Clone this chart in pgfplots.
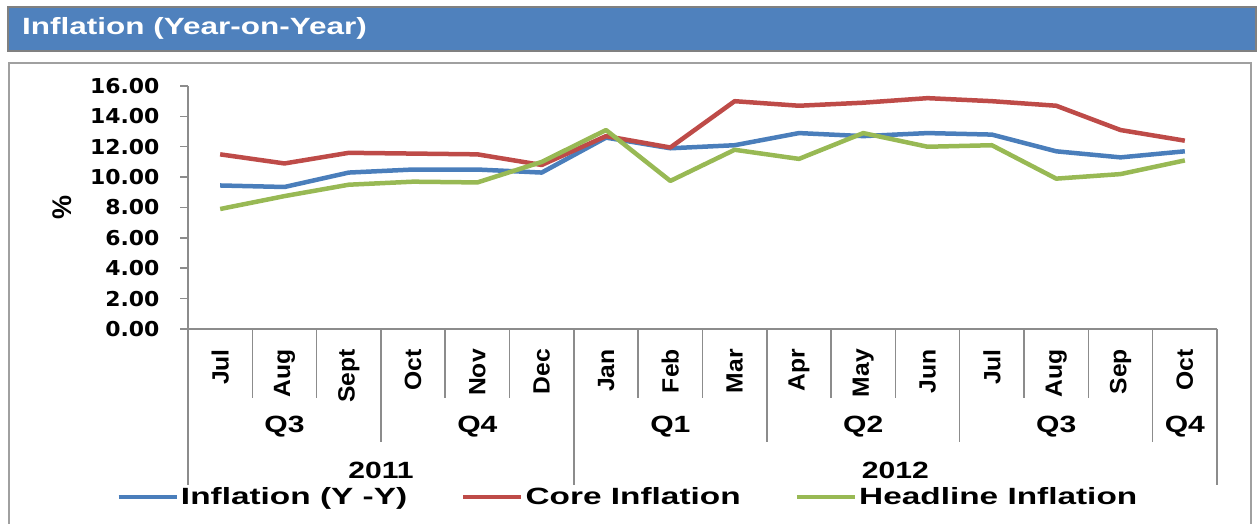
\documentclass[border=0pt]{standalone}
\usepackage{fontspec}
\usepackage{pgfplots}
\usepackage{pgfplotstable}
\pgfplotsset{compat=1.18}
\setmainfont{Liberation Sans}
\newfontfamily\ttlfont[FakeStretch=1.34]{Liberation Sans}
\newfontfamily\lgdfont[FakeStretch=1.42]{Liberation Sans}
\newfontfamily\grpfont[FakeStretch=1.28]{Liberation Sans}
\newfontfamily\monfont[FakeStretch=1.05]{Liberation Sans}
\newfontfamily\numfont[FakeStretch=1.07]{DejaVu Sans}

\definecolor{serblue}{HTML}{4A7EBB}
\definecolor{serred}{HTML}{BE4B48}
\definecolor{sergreen}{HTML}{98B954}
\definecolor{ttlblue}{HTML}{4F81BD}
\definecolor{framegray}{HTML}{A0A0A0}
\definecolor{axisgray}{HTML}{8C8C8C}

% x: 0 = Jul 2011 ... 15 = Oct 2012
\pgfplotstableread{
x  yy    core  head
0  9.45  11.50 7.90
1  9.35  10.90 8.75
2  10.30 11.60 9.50
3  10.50 11.55 9.70
4  10.50 11.50 9.65
5  10.30 10.80 11.00
6  12.60 12.70 13.10
7  11.90 11.95 9.75
8  12.10 15.00 11.80
9  12.90 14.70 11.20
10 12.70 14.90 12.90
11 12.90 15.20 12.00
12 12.80 15.00 12.10
13 11.70 14.70 9.90
14 11.30 13.10 10.20
15 11.70 12.40 11.10
}\inflation

\begin{document}
\begin{tikzpicture}
\useasboundingbox (0,0) rectangle (1260pt,524pt);
% title bar
\draw[fill=ttlblue, draw=gray, line width=2pt] (8pt,473pt) rectangle (1256pt,517pt);
\node[anchor=west, text=white, inner sep=0pt, font=\fontsize{23.5}{27}\selectfont\ttlfont\bfseries] at (22pt,496pt) {Inflation (Year-on-Year)};
% chart frame
\draw[framegray, line width=2pt] (9pt,-2pt) -- (9pt,461pt) -- (1251pt,461pt) -- (1251pt,-2pt);
\node[rotate=90, font=\fontsize{27}{30}\selectfont\bfseries] at (62pt,316pt) {\%};

\begin{axis}[
    scale only axis,
    width=1029pt, height=243pt,
    at={(188pt,195pt)}, anchor=south west,
    xmin=-0.5, xmax=15.5, ymin=0, ymax=16,
    axis x line*=bottom, axis y line*=left,
    axis line style={draw=axisgray, line width=1.5pt},
    ytick={0,2,...,16},
    y tick style={draw=axisgray, line width=1.5pt},
    major tick length=8pt, tick align=outside,
    yticklabel style={font=\fontsize{20.5}{23}\selectfont\numfont\bfseries,
        /pgf/number format/.cd, fixed, fixed zerofill, precision=2, assume math mode=true},
    yticklabel shift=17pt,
    xtick={0,...,15},
    xticklabels={Jul,Aug,Sept,Oct,Nov,Dec,Jan,Feb,Mar,Apr,May,Jun,Jul,Aug,Sep,Oct},
    x tick style={draw=none},
    xticklabel style={rotate=90, anchor=east, inner sep=0pt,
        font=\fontsize{23.5}{27}\selectfont\monfont\bfseries},
    xticklabel shift=12pt,
    clip=false,
    legend columns=3,
    legend style={at={(0.4275,-0.691)}, anchor=center, draw=none, fill=none,
        font=\fontsize{23.5}{27}\selectfont\lgdfont\bfseries,
        /tikz/every even column/.append style={column sep=52pt}},
    legend image code/.code={\draw[#1] (0pt,0pt) -- (58pt,0pt);},
]
\addplot[serblue, line width=4.5pt, line join=round] table[x=x, y=yy] {\inflation};
\addlegendentry{Inflation (Y -Y)}
\addplot[serred, line width=4.5pt, line join=round] table[x=x, y=core] {\inflation};
\addlegendentry{Core Inflation}
\addplot[sergreen, line width=4.5pt, line join=round] table[x=x, y=head] {\inflation};
\addlegendentry{Headline Inflation}

% category separators
\pgfplotsinvokeforeach{0.5,1.5,3.5,4.5,6.5,7.5,9.5,10.5,12.5,13.5}{
  \draw[axisgray, line width=1.5pt] (axis cs:#1,0) -- ++(0pt,-69pt);}
\pgfplotsinvokeforeach{2.5,8.5,11.5,14.5}{
  \draw[axisgray, line width=1.5pt] (axis cs:#1,0) -- ++(0pt,-113pt);}
\pgfplotsinvokeforeach{-0.5,5.5,15.5}{
  \draw[axisgray, line width=1.5pt] (axis cs:#1,0) -- ++(0pt,-156pt);}

% quarter and year labels
\begin{scope}[every node/.style={font=\fontsize{23.5}{27}\selectfont\grpfont\bfseries}]
\node at ([yshift=-98pt]axis cs:1,0) {Q3};
\node at ([yshift=-98pt]axis cs:4,0) {Q4};
\node at ([yshift=-98pt]axis cs:7,0) {Q1};
\node at ([yshift=-98pt]axis cs:10,0) {Q2};
\node at ([yshift=-98pt]axis cs:13,0) {Q3};
\node at ([yshift=-98pt]axis cs:15,0) {Q4};
\node at ([yshift=-141pt]axis cs:2.5,0) {2011};
\node at ([yshift=-141pt]axis cs:10.5,0) {2012};
\end{scope}
\end{axis}
\end{tikzpicture}
\end{document}
